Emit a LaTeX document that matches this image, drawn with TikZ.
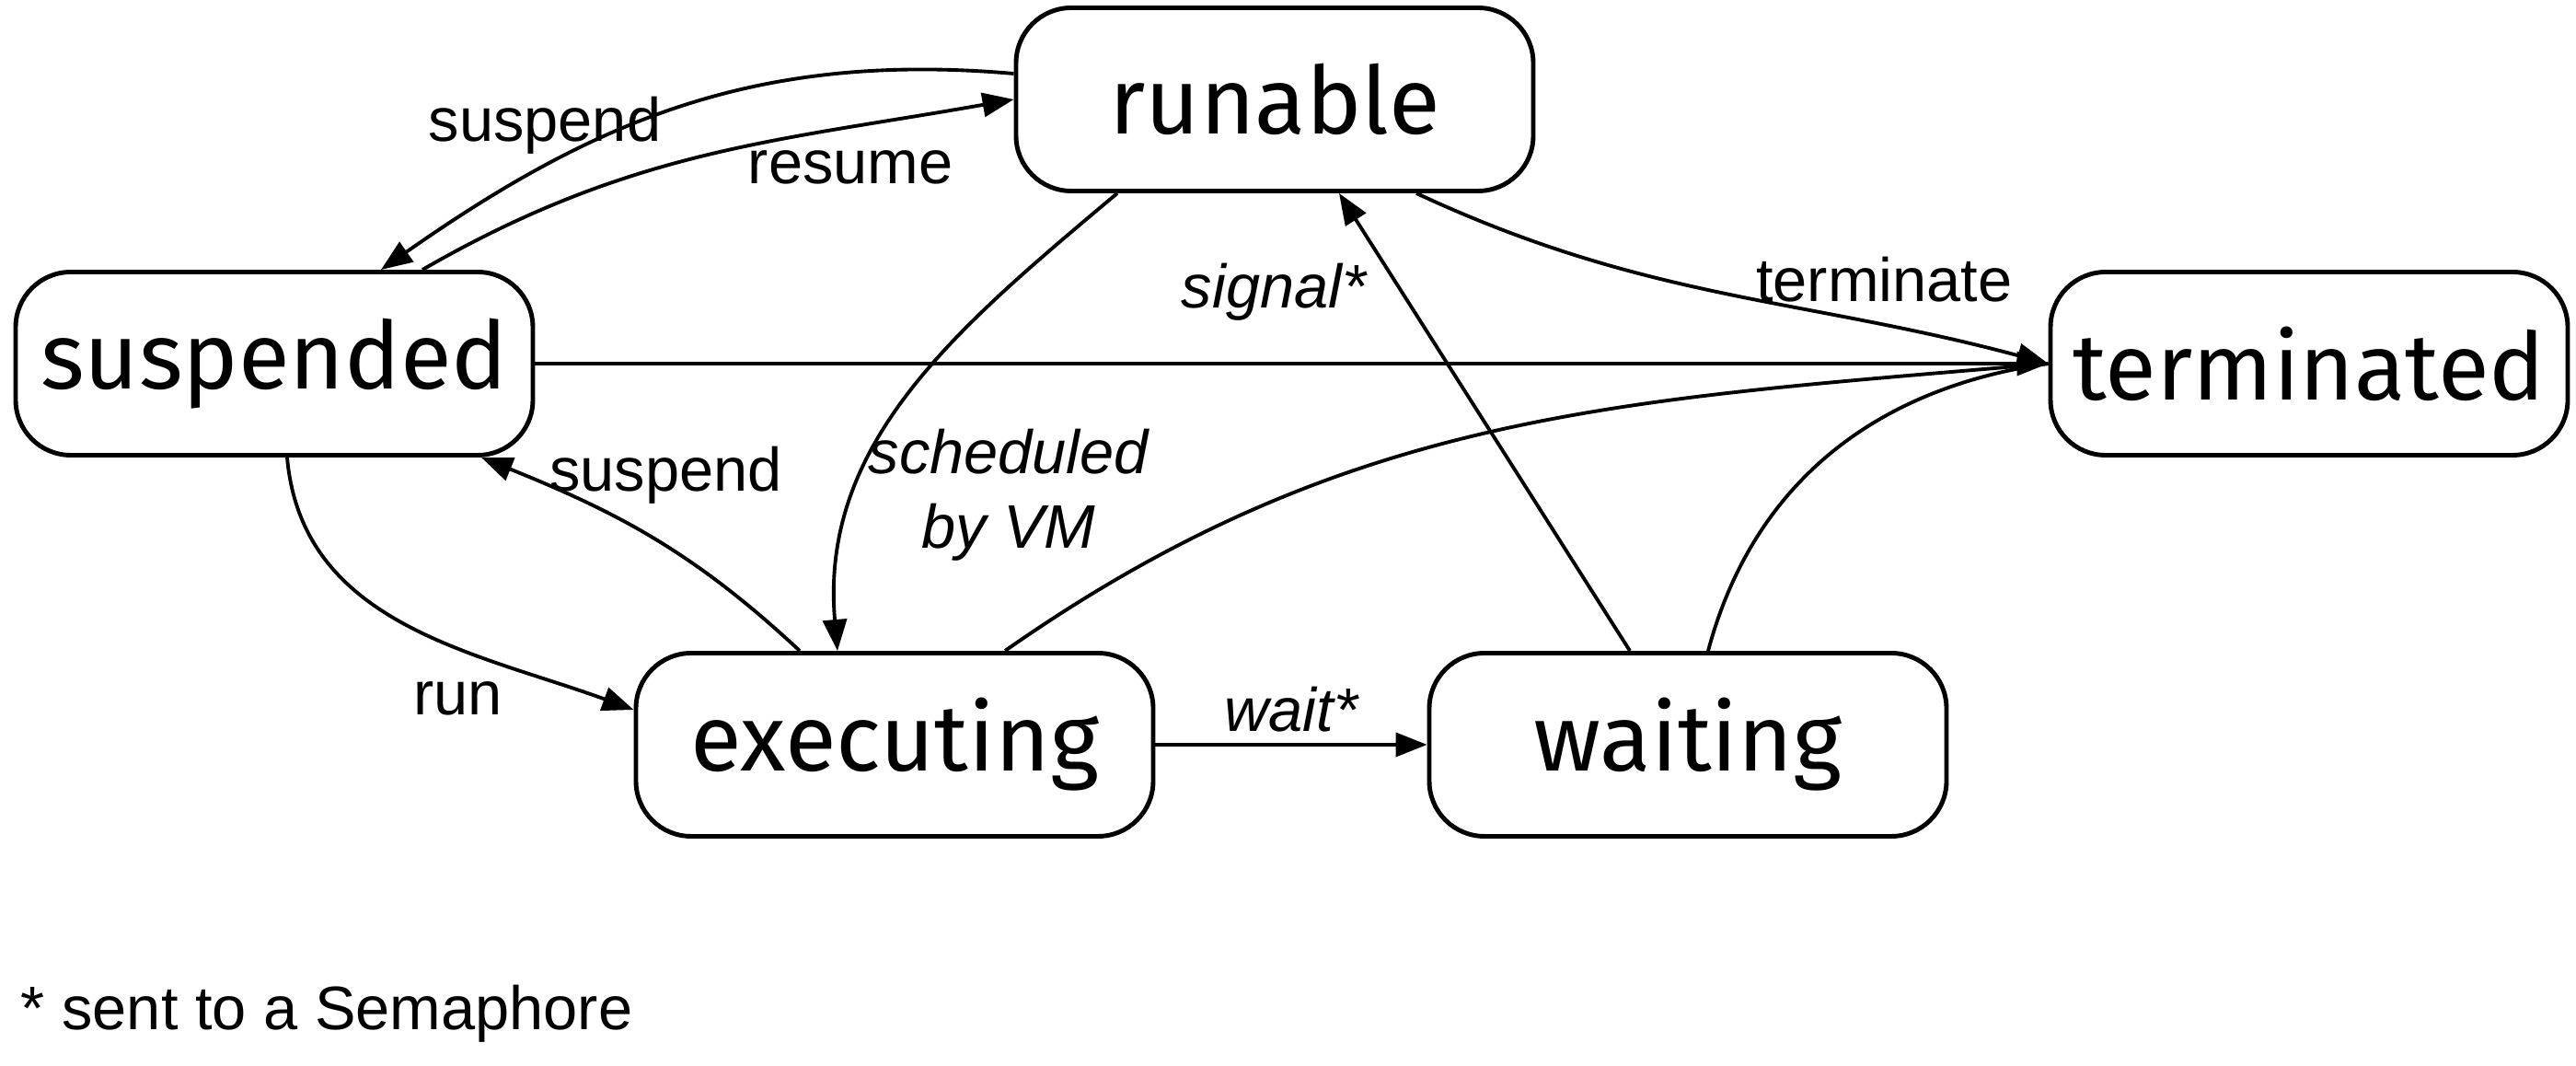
\documentclass[tikz,border=0pt]{standalone}
\usepackage{fontspec}
\setmainfont{Liberation Sans}
\newfontfamily\statefont{Fira Sans}
\usetikzlibrary{arrows.meta, positioning}

\begin{document}
\begin{tikzpicture}[>={Triangle[length=3.4mm,width=2.6mm]},line width=1.1pt,
        status/.style={draw,line width=1.4pt,rounded corners=0.6cm,minimum width=5.62cm,minimum height=1.99cm,font=\statefont\fontsize{29}{34}\selectfont},
        lbl/.style={font=\fontsize{19}{23}\selectfont},
        ilbl/.style={font=\fontsize{19}{23}\selectfont\itshape}]
        % states
        \useasboundingbox (0,0) rectangle (27.99,11.58);
        \node[status](runable) at (13.85,10.50) {runable};
        \node[status](suspended) at (2.98,7.63) {suspended};
        \node[status](terminated) at (25.09,7.63) {terminated};
        \node[status](executing) at (9.72,3.49) {executing};
        \node[status](waiting) at (18.34,3.49) {waiting};
        % transitions
        \path[->]([yshift=0.28cm]runable.west)	edge [out=175,in=35]	node[lbl,pos=0.73,above] {suspend}	([xshift=1.16cm]suspended.north)
        		([xshift=1.61cm]suspended.north)	edge [out=30,in=190]	node[lbl,pos=0.75,below=0.12cm] {resume}	(runable.west)
        		([xshift=-1.71cm]runable.south)	edge [out=-140,in=95]	node[ilbl,pos=0.72,right,align=center] {scheduled\\by VM}	([xshift=-0.62cm]executing.north)
        		([xshift=1.54cm]runable.south)	edge [out=-25,in=165]	node[lbl,pos=0.76,above=0.12cm] {terminate}	(terminated.west)
        		(suspended.east)	edge	(terminated.west)
        		([xshift=-0.63cm]waiting.north)	edge	node[ilbl,pos=0.785,left=0.25cm] {signal*}	([xshift=0.70cm]runable.south)
        		([xshift=-1.03cm]executing.north)	edge [out=137,in=-22]	node[lbl,pos=0.45,above=0.32cm] {suspend}	([xshift=2.25cm]suspended.south)
        		([xshift=0.14cm]suspended.south)	edge [out=-85,in=160]	node[lbl,pos=0.75,below left] {run}	([yshift=0.38cm]executing.west)
        		(executing.east)	edge	node[ilbl,above] {wait*}	(waiting.west);
        \path([xshift=1.20cm]executing.north)	edge [out=35,in=185]	(terminated.west)
        		([xshift=0.22cm]waiting.north)	edge [out=75,in=188]	(terminated.west);
        % footnote
        \node[lbl,anchor=base west,inner sep=0pt](note) at (0.21,0.39) {* sent to a Semaphore};
\end{tikzpicture}
\end{document}
